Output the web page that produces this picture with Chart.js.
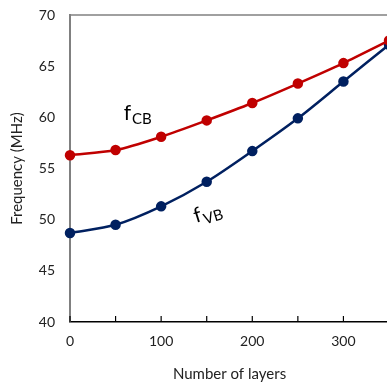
<!DOCTYPE html>
<html>
<head>
<meta charset="utf-8">
<script src="https://cdn.jsdelivr.net/npm/chart.js@4"></script>
<style>
  html, body { margin: 0; padding: 0; background: #fff; overflow: hidden; }
  #wrap { width: 400px; height: 385px; }
</style>
</head>
<body>
<div id="wrap"><canvas id="myChart" width="400" height="385"></canvas></div>
<script>
// values
const layers = [0, 50, 100, 150, 200, 250, 300, 350];
const fCB = [56.3, 56.8, 58.1, 59.7, 61.4, 63.3, 65.3, 67.5];
const fVB = [48.7, 49.5, 51.3, 53.7, 56.7, 59.9, 63.5, 67.1];
const yTicks = [40, 45, 50, 55, 60, 65, 70];

// curve labels, anchored in data coordinates
const labels = [
  { main: "f", sub: "CB", x: 63, y: 60.4, rot: 0 },
  { main: "f", sub: "VB", x: 140, y: 50.4, rot: -0.3 },
];

const font = "Lato";
const red = "#c00000";
const blue = "#002060";

const toPoints = (ys) => layers.map((x, i) => ({ x: x, y: ys[i] }));

// top border + inward tick marks + curve labels
const extras = {
  id: "extras",
  afterDraw(chart) {
    const ctx = chart.ctx;
    const area = chart.chartArea;
    const xs = chart.scales.x;
    const ys = chart.scales.y;

    ctx.save();
    ctx.strokeStyle = "#808080";
    ctx.lineWidth = 1.5;
    ctx.beginPath();
    ctx.moveTo(area.left, area.top);
    ctx.lineTo(area.right, area.top);
    ctx.stroke();

    ctx.strokeStyle = "#000";
    ctx.lineWidth = 1.2;
    xs.ticks.forEach((t) => {
      const px = xs.getPixelForValue(t.value);
      ctx.beginPath();
      ctx.moveTo(px, area.bottom);
      ctx.lineTo(px, area.bottom - 6);
      ctx.stroke();
    });

    ctx.fillStyle = "#000";
    ctx.textBaseline = "middle";
    labels.forEach((l) => {
      ctx.save();
      ctx.translate(xs.getPixelForValue(l.x), ys.getPixelForValue(l.y));
      ctx.rotate(l.rot);
      ctx.font = "21px " + font;
      ctx.textAlign = "center";
      ctx.fillText(l.main, 0, 0);
      const w = ctx.measureText(l.main).width;
      ctx.font = "15px " + font;
      ctx.textAlign = "left";
      ctx.fillText(l.sub, w / 2 + 1, 6);
      ctx.restore();
    });
    ctx.restore();
  },
};

new Chart(document.getElementById("myChart"), {
  type: "line",
  data: {
    datasets: [
      {
        label: "fCB",
        data: toPoints(fCB),
        borderColor: red,
        backgroundColor: red,
        borderWidth: 2.5,
        pointRadius: 4,
        tension: 0.3,
        clip: false,
      },
      {
        label: "fVB",
        data: toPoints(fVB),
        borderColor: blue,
        backgroundColor: blue,
        borderWidth: 2.5,
        pointRadius: 4,
        tension: 0.3,
        clip: false,
      },
    ],
  },
  options: {
    responsive: false,
    animation: false,
    layout: { padding: { top: 15, right: 8, left: 0, bottom: 0 } },
    plugins: { legend: { display: false }, tooltip: { enabled: false } },
    scales: {
      x: {
        type: "linear",
        min: 0,
        max: 350,
        grid: { display: false, drawTicks: false },
        border: { display: true, color: "#000", width: 1.5 },
        ticks: {
          stepSize: 50,
          padding: 11,
          color: "#222",
          font: { family: font, size: 14 },
          callback: (v) => (v % 100 === 0 ? v : ""),
        },
        title: {
          display: true,
          text: "Number of layers",
          color: "#222",
          font: { family: font, size: 15 },
          padding: { top: 0, bottom: 2 },
        },
        afterFit: (s) => { s.height = 63; },
      },
      y: {
        min: 40,
        max: 70,
        grid: { display: false, drawTicks: false },
        border: { display: true, color: "#808080", width: 2 },
        afterBuildTicks: (s) => { s.ticks = yTicks.map((v) => ({ value: v })); },
        ticks: {
          padding: 15,
          color: "#222",
          font: { family: font, size: 14 },
        },
        title: {
          display: true,
          text: "Frequency (MHz)",
          color: "#222",
          font: { family: font, size: 15 },
          padding: { top: 8, bottom: 0 },
        },
        afterFit: (s) => {
          s.width = 70;
          s.paddingTop = 0;
          s.paddingBottom = 0;
        },
      },
    },
  },
  plugins: [extras],
});
</script>
</body>
</html>
